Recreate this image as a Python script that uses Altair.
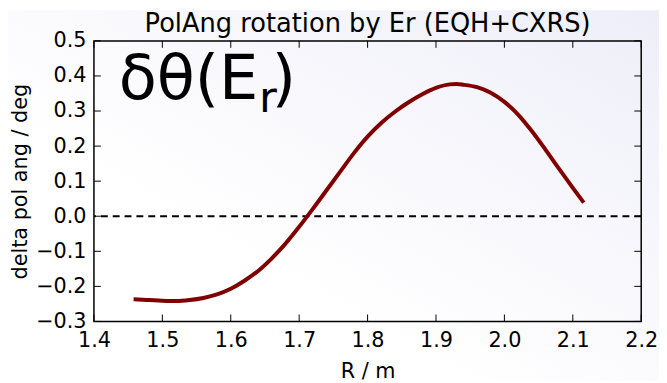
import altair as alt
import pandas as pd

# Data
R = [1.458, 1.48, 1.50, 1.52, 1.54, 1.56, 1.58, 1.60, 1.62, 1.64, 1.66, 1.68, 1.70,
     1.72, 1.74, 1.76, 1.78, 1.80, 1.82, 1.84, 1.86, 1.88, 1.90, 1.92, 1.93, 1.94,
     1.96, 1.98, 2.00, 2.02, 2.04, 2.06, 2.08, 2.10, 2.116]
dtheta = [-0.237, -0.239, -0.241, -0.242, -0.239, -0.233, -0.223, -0.207, -0.184, -0.156,
          -0.120, -0.078, -0.030, 0.021, 0.074, 0.127, 0.180, 0.227, 0.266, 0.298, 0.325,
          0.348, 0.366, 0.376, 0.377, 0.375, 0.368, 0.352, 0.326, 0.290, 0.243, 0.190,
          0.135, 0.081, 0.039]
x_ticks = [1.4, 1.5, 1.6, 1.7, 1.8, 1.9, 2.0, 2.1, 2.2]
y_ticks = [-0.3, -0.2, -0.1, 0.0, 0.1, 0.2, 0.3, 0.4, 0.5]
title_text = "PolAng rotation by Er (EQH+CXRS)"

W, H = 554, 284
FONT = "DejaVu Sans"

df = pd.DataFrame({"R": R, "d": dtheta})
xs = alt.Scale(domain=[1.4, 2.2], nice=False, zero=False)
ys = alt.Scale(domain=[-0.3, 0.5], nice=False, zero=False)

xa = alt.Axis(values=x_ticks, format=".1f", title="R / m", ticks=False, domain=False,
              grid=False, labelFontSize=21, titleFontSize=21, labelPadding=8,
              titlePadding=11, labelColor="black", titleColor="black",
              labelOverlap=False, labelFlush=False, titleFontWeight="normal",
              labelFont=FONT, titleFont=FONT, zindex=2)
ya = alt.Axis(values=y_ticks, format=".1f", title="delta pol ang / deg", ticks=False,
              domain=False, grid=False, labelFontSize=21, titleFontSize=21,
              labelPadding=8, titlePadding=5, labelColor="black", titleColor="black",
              labelOverlap=False, labelFlush=False, titleFontWeight="normal",
              labelFont=FONT, titleFont=FONT, zindex=2)

one = pd.DataFrame({"a": [0]})

bg = alt.Chart(one).mark_rect(
    color=alt.Gradient(
        gradient="linear", x1=0, y1=1, x2=1, y2=0,
        stops=[alt.GradientStop(color="#ffffff", offset=0),
               alt.GradientStop(color="#ffffff", offset=0.35),
               alt.GradientStop(color="#eeeef9", offset=1)]),
).encode(x=alt.value(-87), x2=alt.value(W + 18), y=alt.value(-31), y2=alt.value(H + 60))

line = alt.Chart(df).mark_line(color="#800000", strokeWidth=4, interpolate="monotone").encode(
    x=alt.X("R:Q", scale=xs, axis=xa, title="R / m"),
    y=alt.Y("d:Q", scale=ys, axis=ya, title="delta pol ang / deg"),
)

zero = alt.Chart(pd.DataFrame({"d": [0.0]})).mark_rule(
    color="black", strokeWidth=2, strokeDash=[7, 5]).encode(
    y=alt.Y("d:Q", scale=ys, axis=ya, title="delta pol ang / deg"))

frame = alt.Chart(one).mark_rect(filled=False, stroke="black", strokeWidth=1.5).encode(
    x=alt.value(0), x2=alt.value(W), y=alt.value(0), y2=alt.value(H))

xt = pd.DataFrame({"R": x_ticks})
yt = pd.DataFrame({"d": y_ticks})
xb = alt.Chart(xt).mark_rule(color="black", strokeWidth=1).encode(
    x=alt.X("R:Q", scale=xs, axis=xa, title="R / m"), y=alt.value(H), y2=alt.value(H - 7))
xtp = alt.Chart(xt).mark_rule(color="black", strokeWidth=1).encode(
    x=alt.X("R:Q", scale=xs, axis=xa, title="R / m"), y=alt.value(0), y2=alt.value(7))
yl = alt.Chart(yt).mark_rule(color="black", strokeWidth=1).encode(
    y=alt.Y("d:Q", scale=ys, axis=ya, title="delta pol ang / deg"), x=alt.value(0), x2=alt.value(7))
yr = alt.Chart(yt).mark_rule(color="black", strokeWidth=1).encode(
    y=alt.Y("d:Q", scale=ys, axis=ya, title="delta pol ang / deg"), x=alt.value(W), x2=alt.value(W - 7))

title = alt.Chart(one).mark_text(text=title_text, fontSize=26, font=FONT, align="center",
                                 baseline="alphabetic", color="black").encode(
    x=alt.value(W / 2), y=alt.value(-9))
t1 = alt.Chart(one).mark_text(text="δθ(E", fontSize=63, font=FONT, align="left",
                              baseline="alphabetic", color="black").encode(
    x=alt.value(25), y=alt.value(59))
t2 = alt.Chart(one).mark_text(text="r", fontSize=44, font=FONT, align="left",
                              baseline="alphabetic", color="black").encode(
    x=alt.value(167), y=alt.value(72))
t3 = alt.Chart(one).mark_text(text=")", fontSize=63, font=FONT, align="left",
                              baseline="alphabetic", color="black").encode(
    x=alt.value(180), y=alt.value(59))

chart = alt.layer(bg, zero, line, xb, xtp, yl, yr, frame, title, t1, t2, t3).properties(
    width=W, height=H,
    autosize=alt.AutoSizeParams(type="none"),
    padding={"left": 87, "top": 31, "right": 18, "bottom": 58},
).configure_view(stroke=None, fill=None).configure(background="white")

chart.save("out.html", embed_options={"renderer": "svg", "actions": False})
